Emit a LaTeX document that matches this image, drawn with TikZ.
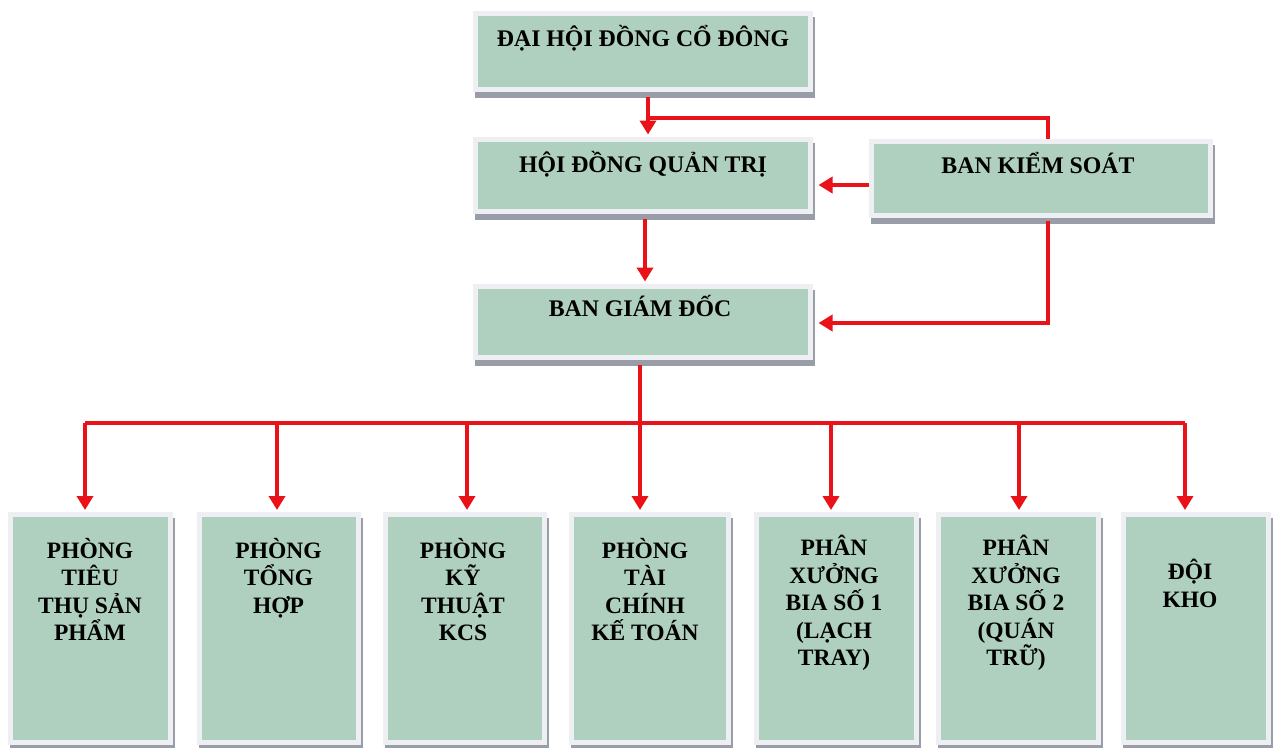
\documentclass[tikz,border=0pt]{standalone}
\usepackage{fontspec}
\setmainfont{Liberation Serif}
\usetikzlibrary{arrows.meta}

\definecolor{boxfill}{RGB}{175,208,190}
\definecolor{boxframe}{RGB}{237,239,242}
\definecolor{boxshade}{RGB}{152,157,167}
\definecolor{linkred}{RGB}{232,18,24}

% keeps the first line of every stacked label at the same height
\newcommand\capstrut{\rule{0pt}{20pt}}

\begin{document}
\begin{tikzpicture}[x=1pt,y=-1pt,
  orgbox/.style={rectangle, draw=boxframe, fill=boxfill, line width=5pt, inner sep=0pt,
    preaction={draw=boxshade, fill=boxshade, line width=5pt,
      transform canvas={shift={(2.5pt,-6pt)}}}},
  toplbl/.style={anchor=base, inner sep=0pt,
    font=\fontsize{23.8}{27.5}\selectfont\bfseries},
  collbl/.style={anchor=north, inner sep=0pt, align=center,
    font=\fontsize{23.5}{27.5}\selectfont\bfseries},
  link/.style={draw=linkred, line width=4.5pt},
  arr/.style={link, -{Triangle[width=16pt,length=14pt]}, shorten >=2pt}]

\useasboundingbox[fill=white] (0,0) rectangle (1274,747);

% upper management boxes
\node[orgbox, minimum width=335pt, minimum height=76pt] (dh)  at (642.5,51)    {};
\node[orgbox, minimum width=335pt, minimum height=72pt] (hq)  at (642.5,175)   {};
\node[orgbox, minimum width=339pt, minimum height=74pt] (bks) at (1040.5,178)  {};
\node[orgbox, minimum width=335pt, minimum height=71pt] (bgd) at (642.5,321.5) {};

\node[toplbl] (dh-t)  at (643,46)   {ĐẠI HỘI ĐỒNG CỔ ĐÔNG};
\node[toplbl] (hq-t)  at (643,172)  {HỘI ĐỒNG QUẢN TRỊ};
\node[toplbl] (bks-t) at (1038,173) {BAN KIỂM SOÁT};
\node[toplbl] (bgd-t) at (640,316)  {BAN GIÁM ĐỐC};

% departments
\node[orgbox, minimum width=160pt, minimum height=228pt] (b1) at (90,628.5)     {};
\node[orgbox, minimum width=159pt, minimum height=228pt] (b2) at (278.5,628.5)  {};
\node[orgbox, minimum width=159pt, minimum height=228pt] (b3) at (464.5,628.5)  {};
\node[orgbox, minimum width=157pt, minimum height=228pt] (b4) at (649.5,628.5)  {};
\node[orgbox, minimum width=160pt, minimum height=228pt] (b5) at (836,628.5)    {};
\node[orgbox, minimum width=160pt, minimum height=228pt] (b6) at (1018,628.5)   {};
\node[orgbox, minimum width=145pt, minimum height=228pt] (b7) at (1195.5,628.5) {};

\node[collbl] (b1-t) at (90,538)     {\capstrut PHÒNG\\TIÊU\\THỤ SẢN\\PHẨM};
\node[collbl] (b2-t) at (278.5,538)  {\capstrut PHÒNG\\TỔNG\\HỢP};
\node[collbl] (b3-t) at (463,538)    {\capstrut PHÒNG\\KỸ\\THUẬT\\KCS};
\node[collbl] (b4-t) at (645,538)    {\capstrut PHÒNG\\TÀI\\CHÍNH\\KẾ TOÁN};
\node[collbl] (b5-t) at (834,535)    {\capstrut PHÂN\\XƯỞNG\\BIA SỐ 1\\(LẠCH\\TRAY)};
\node[collbl] (b6-t) at (1016,535)   {\capstrut PHÂN\\XƯỞNG\\BIA SỐ 2\\(QUÁN\\TRỮ)};
\node[collbl] (b7-t) at (1190,559)   {\capstrut ĐỘI\\KHO};

% routing points
\coordinate (c1)   at (648,0);
\coordinate (j1)   at (648,118);
\coordinate (kx)   at (1048,0);
\coordinate (r1)   at (0,185);
\coordinate (r2)   at (0,323);
\coordinate (c2)   at (645,0);
\coordinate (bus)  at (640,423);
\coordinate (d1) at (85,423);
\coordinate (d2) at (277,423);
\coordinate (d3) at (467,423);
\coordinate (d4) at (640,423);
\coordinate (d5) at (831,423);
\coordinate (d6) at (1019,423);
\coordinate (d7) at (1185,423);

% connectors
\draw[arr] (dh.south -| c1) ++(0,5) -- (hq.north -| c1);
\draw[link] (bks.north -| kx) |- (j1);
\draw[arr, shorten >=6pt] (bks.west |- r1) -- (hq.east |- r1);
\draw[arr] (hq.south -| c2) ++(0,5) -- (bgd.north -| c2);
\draw[arr, shorten >=6pt] (bks.south -| kx) ++(0,3) |- (bgd.east |- r2);
\draw[link] (bgd.south -| bus) ++(0,5) -- (bus);
\draw[link] (d1) -- (d7);
\foreach \i in {1,...,7}
  \draw[arr] (d\i) -- (d\i |- b\i.north);

\end{tikzpicture}
\end{document}
